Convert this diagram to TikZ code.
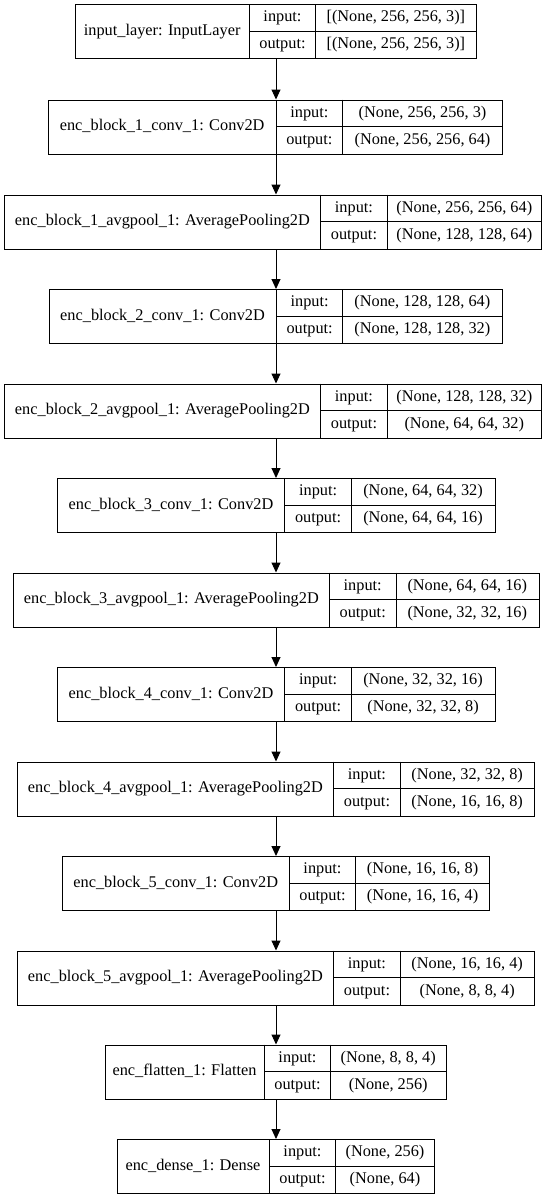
\documentclass[tikz,border=0pt]{standalone}
\usepackage{fontspec}
\setmainfont{Liberation Serif}
\usetikzlibrary{arrows.meta}
\newcommand\kblock[9]{%
  % #1 id, #2 top, #3 left, #4 div1, #5 div2, #6 right, #7 label, #8 input, #9 output
  \node[layerbox, minimum width={(#6-#3)*1pt}, anchor=north west] (#1) at (#3,#2) {};
  \draw[cellline] (#4,#2) -- (#4,{#2+54});
  \draw[cellline] (#5,#2) -- (#5,{#2+54});
  \draw[cellline] (#4,{#2+27}) -- (#6,{#2+27});
  \node[txt] (#1-name) at ({(#3+#4)/2},{#2+27}) {#7};
  \node[txt] (#1-inl) at ({(#4+#5)/2},{#2+13.5}) {input:};
  \node[txt] (#1-outl) at ({(#4+#5)/2},{#2+40.5}) {output:};
  \node[txt] (#1-inv) at ({(#5+#6)/2},{#2+13.5}) {#8};
  \node[txt] (#1-outv) at ({(#5+#6)/2},{#2+40.5}) {#9};
}
\begin{document}
\begin{tikzpicture}[x=1pt,y=-1pt,
  layerbox/.style={draw=black, line width=1pt, inner sep=0pt, minimum height=54pt},
  cellline/.style={draw=black, line width=1pt},
  txt/.style={inner sep=0pt, font=\fontsize{16.3}{19}\selectfont, text height=11.5pt, text depth=3.5pt},
  conn/.style={draw=black, line width=1pt, -{Triangle[length=10pt,width=9pt]}}]
\useasboundingbox (0,0) rectangle (551,1197);
\coordinate (ax) at (276,0);
\kblock{b0}{4}{75}{249.3}{315.7}{476}{input\_layer: InputLayer}{[(None, 256, 256, 3)]}{[(None, 256, 256, 3)]}
\kblock{b1}{99.5}{48.3}{276}{342.7}{502.3}{enc\_block\_1\_conv\_1: Conv2D}{(None, 256, 256, 3)}{(None, 256, 256, 64)}
\kblock{b2}{194.5}{4.2}{320.6}{387.3}{541.3}{enc\_block\_1\_avgpool\_1: AveragePooling2D}{(None, 256, 256, 64)}{(None, 128, 128, 64)}
\kblock{b3}{289}{48.5}{276.6}{342.7}{502}{enc\_block\_2\_conv\_1: Conv2D}{(None, 128, 128, 64)}{(None, 128, 128, 32)}
\kblock{b4}{383.5}{4.2}{320.6}{387.3}{541.3}{enc\_block\_2\_avgpool\_1: AveragePooling2D}{(None, 128, 128, 32)}{(None, 64, 64, 32)}
\kblock{b5}{478}{57.3}{284.7}{351.5}{494.6}{enc\_block\_3\_conv\_1: Conv2D}{(None, 64, 64, 32)}{(None, 64, 64, 16)}
\kblock{b6}{572.5}{13.4}{329.3}{396.1}{538.5}{enc\_block\_3\_avgpool\_1: AveragePooling2D}{(None, 64, 64, 16)}{(None, 32, 32, 16)}
\kblock{b7}{667}{57.3}{284.7}{351.5}{494.6}{enc\_block\_4\_conv\_1: Conv2D}{(None, 32, 32, 16)}{(None, 32, 32, 8)}
\kblock{b8}{761.5}{16.9}{333.9}{400}{534.3}{enc\_block\_4\_avgpool\_1: AveragePooling2D}{(None, 32, 32, 8)}{(None, 16, 16, 8)}
\kblock{b9}{856}{62.2}{289.3}{355.7}{489.3}{enc\_block\_5\_conv\_1: Conv2D}{(None, 16, 16, 8)}{(None, 16, 16, 4)}
\kblock{b10}{950.5}{16.9}{333.9}{400}{534.3}{enc\_block\_5\_avgpool\_1: AveragePooling2D}{(None, 16, 16, 4)}{(None, 8, 8, 4)}
\kblock{b11}{1044.5}{104.7}{264.3}{330.7}{445.7}{enc\_flatten\_1: Flatten}{(None, 8, 8, 4)}{(None, 256)}
\kblock{b12}{1139}{116.7}{269.3}{335.7}{434.3}{enc\_dense\_1: Dense}{(None, 256)}{(None, 64)}
\foreach \a/\b in {b0/b1,b1/b2,b2/b3,b3/b4,b4/b5,b5/b6,b6/b7,b7/b8,b8/b9,b9/b10,b10/b11,b11/b12}
  \draw[conn] (\a.south -| ax) -- (\b.north -| ax);
\end{tikzpicture}
\end{document}
